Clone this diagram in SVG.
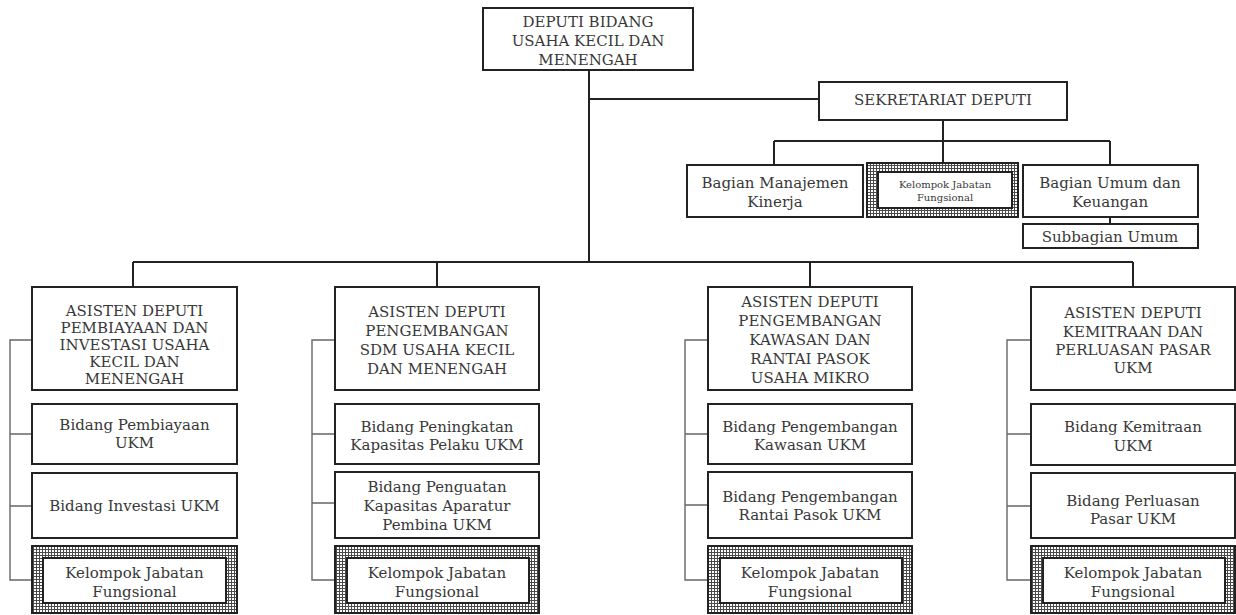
<svg xmlns="http://www.w3.org/2000/svg" width="1236" height="615" viewBox="0 0 1236 615">
  <style>
    .box { fill: #fff; stroke: #222; stroke-width: 2; }
    .fbox { fill: url(#grid); stroke: #222; stroke-width: 2; }
    .inner { fill: #fff; stroke: #222; stroke-width: 2; }
    .t { font-family: "DejaVu Serif", "Liberation Serif", serif; fill: #383838; text-anchor: middle; font-size: 15px; }
    .s { font-size: 10px; }
    .ln { stroke: #222; stroke-width: 2; fill: none; }
    .br { stroke: #666; stroke-width: 1.4; fill: none; }
  </style>
  <defs>
    <!-- fine check grid used for the fungsional frames -->
    <pattern id="grid" width="3" height="3" patternUnits="userSpaceOnUse">
      <rect width="3" height="3" fill="#fff"/>
      <path d="M0 0.5H3M0.5 0V3" stroke="#4a4a4a" stroke-width="1"/>
    </pattern>
  </defs>

  <!-- connectors -->
  <g id="connectors">
    <path class="ln" d="M589 70V262M589 99H819"/>
    <path class="ln" d="M943 120V141M774 141H1110M774 141V165M943 141V163M1110 141V165M1110 217V224"/>
    <path class="ln" d="M133 262H1133M133 262V287M437 262V287M810 262V287M1133 262V287"/>
    <path class="br" d="M32 340H10V580H32M10 434H32M10 506H32"/>
    <path class="br" d="M335 340H312V580H335M312 434H335M312 503H335"/>
    <path class="br" d="M708 340H685V580H708M685 434H708M685 505H708"/>
    <path class="br" d="M1031 340H1007V580H1031M1007 434H1031M1007 506H1031"/>
  </g>

  <!-- top -->
  <g id="deputi">
    <rect class="box" x="483" y="8" width="210" height="62"/>
    <text class="t"><tspan x="588" y="27">DEPUTI BIDANG</tspan><tspan x="588" y="46">USAHA KECIL DAN</tspan><tspan x="588" y="65">MENENGAH</tspan></text>
  </g>

  <g id="sekretariat">
    <rect class="box" x="819" y="82" width="248" height="38"/>
    <text class="t" x="943" y="105">SEKRETARIAT DEPUTI</text>
  </g>

  <g id="bagian-manajemen">
    <rect class="box" x="687" y="165" width="176" height="52"/>
    <text class="t"><tspan x="775" y="188">Bagian Manajemen</tspan><tspan x="775" y="207">Kinerja</tspan></text>
  </g>

  <g id="sekretariat-fungsional">
    <rect class="fbox" x="867" y="163" width="151" height="54"/>
    <rect class="inner" x="878" y="172" width="134" height="36"/>
    <text class="t s"><tspan x="945" y="188">Kelompok Jabatan</tspan><tspan x="945" y="201">Fungsional</tspan></text>
  </g>

  <g id="bagian-umum">
    <rect class="box" x="1023" y="165" width="175" height="52"/>
    <text class="t"><tspan x="1110" y="188">Bagian Umum dan</tspan><tspan x="1110" y="207">Keuangan</tspan></text>
  </g>

  <g id="subbagian-umum">
    <rect class="box" x="1023" y="224" width="175" height="24"/>
    <text class="t" x="1110" y="242">Subbagian Umum</text>
  </g>

  <!-- column 1 -->
  <g id="asdep-pembiayaan">
    <rect class="box" x="32" y="287" width="205" height="103"/>
    <text class="t"><tspan x="134.5" y="316">ASISTEN DEPUTI</tspan><tspan x="134.5" y="333">PEMBIAYAAN DAN</tspan><tspan x="134.5" y="350">INVESTASI USAHA</tspan><tspan x="134.5" y="367">KECIL DAN</tspan><tspan x="134.5" y="384">MENENGAH</tspan></text>
  </g>
  <g id="bidang-pembiayaan">
    <rect class="box" x="32" y="404" width="205" height="60"/>
    <text class="t"><tspan x="134.5" y="430">Bidang Pembiayaan</tspan><tspan x="134.5" y="448">UKM</tspan></text>
  </g>
  <g id="bidang-investasi">
    <rect class="box" x="32" y="473" width="205" height="65"/>
    <text class="t" x="134.5" y="511">Bidang Investasi UKM</text>
  </g>
  <g id="fungsional-1">
    <rect class="fbox" x="32" y="546" width="205" height="67"/>
    <rect class="inner" x="43" y="558" width="183" height="45"/>
    <text class="t"><tspan x="134.5" y="578">Kelompok Jabatan</tspan><tspan x="134.5" y="597">Fungsional</tspan></text>
  </g>

  <!-- column 2 -->
  <g id="asdep-sdm">
    <rect class="box" x="335" y="287" width="204" height="103"/>
    <text class="t"><tspan x="437" y="317">ASISTEN DEPUTI</tspan><tspan x="437" y="336">PENGEMBANGAN</tspan><tspan x="437" y="355">SDM USAHA KECIL</tspan><tspan x="437" y="374">DAN MENENGAH</tspan></text>
  </g>
  <g id="bidang-peningkatan">
    <rect class="box" x="335" y="404" width="204" height="60"/>
    <text class="t"><tspan x="437" y="432">Bidang Peningkatan</tspan><tspan x="437" y="450">Kapasitas Pelaku UKM</tspan></text>
  </g>
  <g id="bidang-penguatan">
    <rect class="box" x="335" y="472" width="204" height="66"/>
    <text class="t"><tspan x="437" y="492">Bidang Penguatan</tspan><tspan x="437" y="511">Kapasitas Aparatur</tspan><tspan x="437" y="530">Pembina UKM</tspan></text>
  </g>
  <g id="fungsional-2">
    <rect class="fbox" x="335" y="546" width="204" height="67"/>
    <rect class="inner" x="347" y="558" width="182" height="45"/>
    <text class="t"><tspan x="437" y="578">Kelompok Jabatan</tspan><tspan x="437" y="597">Fungsional</tspan></text>
  </g>

  <!-- column 3 -->
  <g id="asdep-kawasan">
    <rect class="box" x="708" y="287" width="204" height="103"/>
    <text class="t"><tspan x="810" y="307">ASISTEN DEPUTI</tspan><tspan x="810" y="326">PENGEMBANGAN</tspan><tspan x="810" y="345">KAWASAN DAN</tspan><tspan x="810" y="364">RANTAI PASOK</tspan><tspan x="810" y="383">USAHA MIKRO</tspan></text>
  </g>
  <g id="bidang-kawasan">
    <rect class="box" x="708" y="404" width="204" height="60"/>
    <text class="t"><tspan x="810" y="432">Bidang Pengembangan</tspan><tspan x="810" y="450">Kawasan UKM</tspan></text>
  </g>
  <g id="bidang-rantai-pasok">
    <rect class="box" x="708" y="472" width="204" height="66"/>
    <text class="t"><tspan x="810" y="502">Bidang Pengembangan</tspan><tspan x="810" y="520">Rantai Pasok UKM</tspan></text>
  </g>
  <g id="fungsional-3">
    <rect class="fbox" x="708" y="546" width="204" height="67"/>
    <rect class="inner" x="720" y="558" width="182" height="45"/>
    <text class="t"><tspan x="810" y="578">Kelompok Jabatan</tspan><tspan x="810" y="597">Fungsional</tspan></text>
  </g>

  <!-- column 4 -->
  <g id="asdep-kemitraan">
    <rect class="box" x="1031" y="287" width="204" height="103"/>
    <text class="t"><tspan x="1133" y="318">ASISTEN DEPUTI</tspan><tspan x="1133" y="337">KEMITRAAN DAN</tspan><tspan x="1133" y="355">PERLUASAN PASAR</tspan><tspan x="1133" y="373">UKM</tspan></text>
  </g>
  <g id="bidang-kemitraan">
    <rect class="box" x="1031" y="404" width="204" height="61"/>
    <text class="t"><tspan x="1133" y="432">Bidang Kemitraan</tspan><tspan x="1133" y="451">UKM</tspan></text>
  </g>
  <g id="bidang-perluasan">
    <rect class="box" x="1031" y="473" width="204" height="65"/>
    <text class="t"><tspan x="1133" y="506">Bidang Perluasan</tspan><tspan x="1133" y="524">Pasar UKM</tspan></text>
  </g>
  <g id="fungsional-4">
    <rect class="fbox" x="1031" y="546" width="204" height="67"/>
    <rect class="inner" x="1043" y="558" width="182" height="45"/>
    <text class="t"><tspan x="1133" y="578">Kelompok Jabatan</tspan><tspan x="1133" y="597">Fungsional</tspan></text>
  </g>
</svg>
